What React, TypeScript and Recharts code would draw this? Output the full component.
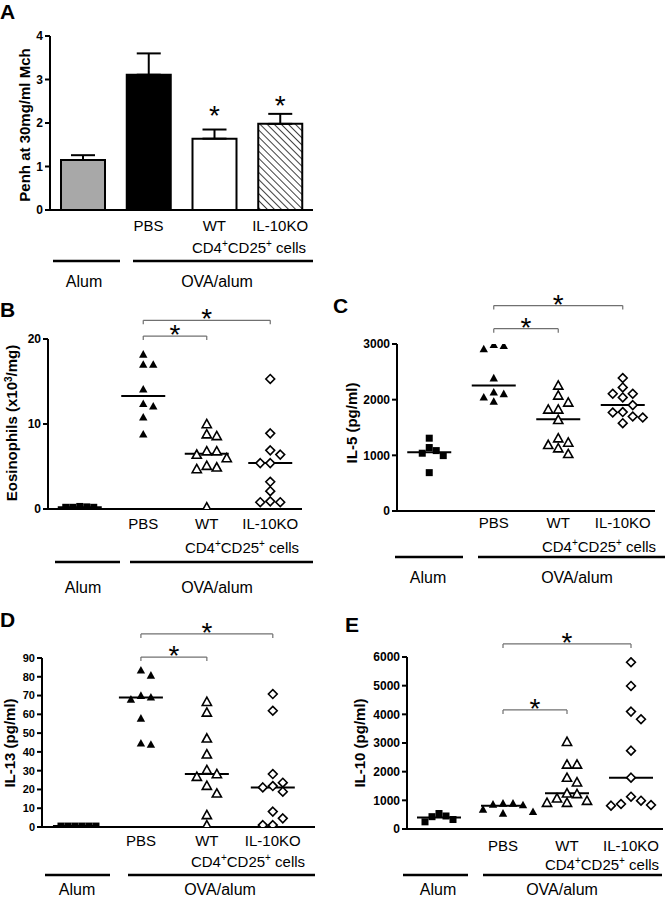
import React from 'react';
import {
  BarChart,
  Bar,
  Cell,
  ErrorBar,
  ScatterChart,
  Scatter,
  XAxis,
  YAxis,
  ReferenceLine,
  ReferenceDot,
} from 'recharts';

const FONT = '"Liberation Sans", Arial, Helvetica, sans-serif';

const groupNames = ['Alum', 'PBS', 'WT', 'IL-10KO'];

// A: Penh at 30 mg/ml Mch, mean + SEM
const penhMean = [1.15, 3.11, 1.64, 1.98];
const penhSem = [0.11, 0.49, 0.21, 0.23];
const penhStar = [null, null, 2.14, 2.37];

// B: eosinophils (x10^3/mg)
const eosAlum = [0.2, 0.3, 0.25, 0.2, 0.2];
const eosPbs = [18.2, 17.0, 17.0, 14.1, 12.4, 12.1, 10.8, 8.8];
const eosWt = [10.0, 8.8, 8.6, 6.8, 6.8, 6.4, 6.0, 5.1, 4.9, 4.7, 0.2];
const eosKo = [15.3, 8.9, 6.9, 6.4, 5.4, 5.4, 3.2, 2.1, 0.9, 0.8, 0.8];
const eosMedian = [0.2, 13.3, 6.5, 5.4];

// C: IL-5 (pg/ml)
const il5Alum = [1308, 1140, 1085, 1038, 995, 689];
const il5Pbs = [2988, 2970, 2910, 2388, 2136, 2106, 2046, 1968];
const il5Wt = [2256, 2076, 1950, 1824, 1824, 1638, 1308, 1230, 1188, 1128, 1026];
const il5Ko = [2389, 2220, 2106, 2106, 2040, 1902, 1777, 1770, 1698, 1680, 1578];
const il5Median = [1056, 2256, 1650, 1902];

// D: IL-13 (pg/ml)
const il13Alum = [0.5, 0.5, 0.5, 0.5, 0.5, 0.5];
const il13Pbs = [83.5, 80.8, 70.0, 69.1, 68.0, 57.9, 44.6, 44.0];
const il13Wt = [66.7, 61.0, 47.2, 38.7, 30.4, 28.2, 26.8, 22.0, 17.9, 6.4, 1.0];
const il13Ko = [70.8, 61.9, 28.2, 23.6, 21.8, 21.1, 18.8, 8.2, 4.6, 1.0, 1.0];
const il13Median = [0.5, 68.9, 28.2, 21.1];

// E: IL-10 (pg/ml)
const il10Alum = [540, 454, 430, 331, 250];
const il10Pbs = [897, 897, 862, 838, 687, 605, 547];
const il10Wt = [3043, 2251, 2251, 1792, 1629, 1245, 1222, 1070, 988, 919, 919];
const il10Ko = [5818, 4990, 4095, 3828, 2733, 1792, 1128, 988, 872, 838, 815];
const il10Median = [400, 815, 1245, 1792];

const AXW = 45;
const TOP = 60;

const penhData = groupNames.map((g, i) => ({
  group: g,
  mean: penhMean[i],
  err: [0, penhSem[i]],
}));
const barFills = ['#a8a8a8', '#000', '#fff', 'url(#penhHatch)'];

const panels = [
  {
    id: 'B',
    plot: { l: 48, t: 339, r: 302, b: 509 },
    yMax: 20,
    yTicks: [0, 10, 20],
    xMax: 4,
    tickMargin: 9,
    tickFont: 12,
    groups: [eosAlum, eosPbs, eosWt, eosKo],
    medians: eosMedian,
    brackets: [
      { to: 2, level: 20.35 },
      { to: 3, level: 22.2 },
    ],
  },
  {
    id: 'C',
    plot: { l: 397, t: 344, r: 655, b: 511 },
    yMax: 3000,
    yTicks: [0, 1000, 2000, 3000],
    xMax: 4,
    tickMargin: 6,
    tickFont: 12,
    groups: [il5Alum, il5Pbs, il5Wt, il5Ko],
    medians: il5Median,
    brackets: [
      { to: 2, level: 3276 },
      { to: 3, level: 3690 },
    ],
  },
  {
    id: 'D',
    plot: { l: 42, t: 658, r: 315, b: 827 },
    yMax: 90,
    yTicks: [0, 10, 20, 30, 40, 50, 60, 70, 80, 90],
    xMax: 4.14,
    tickMargin: 8,
    tickFont: 11,
    groups: [il13Alum, il13Pbs, il13Wt, il13Ko],
    medians: il13Median,
    brackets: [
      { to: 2, level: 90.5 },
      { to: 3, level: 102.8 },
    ],
  },
  {
    id: 'E',
    plot: { l: 407, t: 657, r: 663, b: 829 },
    yMax: 6000,
    yTicks: [0, 1000, 2000, 3000, 4000, 5000, 6000],
    xMax: 4,
    tickMargin: 11,
    tickFont: 12,
    groups: [il10Alum, il10Pbs, il10Wt, il10Ko],
    medians: il10Median,
    brackets: [
      { to: 2, level: 4153 },
      { to: 3, level: 6456 },
    ],
  },
];

// spread tied values sideways the way GraphPad column scatter does
function jitter(values: number[], center: number, pxY: number, slot: number) {
  const order = values.map((_, i) => i).sort((a, b) => values[b] - values[a]);
  const placed: { v: number; s: number }[] = [];
  return order.map((i) => {
    const v = values[i];
    const busy = placed.filter((p) => Math.abs(p.v - v) * pxY < 9).map((p) => p.s);
    const s = [0, 1, -1, 2, -2, 3, -3, 4, -4].find((c) => !busy.includes(c)) ?? 0;
    placed.push({ v, s });
    return { x: center + s * slot, y: v };
  });
}

const tri = (x: number, y: number, r: number) =>
  `M${x},${y - r}L${x + r},${y + r * 0.8}L${x - r},${y + r * 0.8}Z`;
const dia = (x: number, y: number, r: number) =>
  `M${x},${y - r}L${x + r},${y}L${x},${y + r}L${x - r},${y}Z`;

const markers = [
  (p: any) => <rect x={p.cx - 3.5} y={p.cy - 3.5} width={7} height={7} fill="#000" />,
  (p: any) => <path d={tri(p.cx, p.cy, 4.2)} fill="#000" />,
  (p: any) => <path d={tri(p.cx, p.cy, 4.6)} fill="#fff" stroke="#000" strokeWidth={1.6} />,
  (p: any) => <path d={dia(p.cx, p.cy, 4.4)} fill="#fff" stroke="#000" strokeWidth={1.6} />,
];

const star = (p: any) => (
  <text x={p.cx} y={p.cy + 8} textAnchor="middle" fontSize={28} fill="#000">
    *
  </text>
);

const axisLine = { stroke: '#000', strokeWidth: 2 };

function PanelA() {
  const plot = { l: 50, t: 36, r: 313, b: 210 };
  return (
    <div style={{ position: 'absolute', left: plot.l - AXW, top: plot.t - TOP }}>
      <BarChart
        width={plot.r - plot.l + AXW + 8}
        height={plot.b - plot.t + TOP + 30}
        data={penhData}
        margin={{ top: TOP, right: 8, bottom: 0, left: 0 }}
      >
        <defs>
          <pattern id="penhHatch" width="5" height="5" patternUnits="userSpaceOnUse" patternTransform="rotate(-45)">
            <rect width="5" height="5" fill="#fff" />
            <line x1="0" y1="0" x2="0" y2="5" stroke="#000" strokeWidth="1.5" />
          </pattern>
        </defs>
        <XAxis
          dataKey="group"
          tickFormatter={(v) => (v === 'Alum' ? '' : v)}
          tickLine={false}
          tickSize={0}
          tickMargin={10}
          height={30}
          interval={0}
          axisLine={axisLine}
          tick={{ fill: '#000', fontSize: 15 }}
        />
        <YAxis
          domain={[0, 4]}
          ticks={[0, 1, 2, 3, 4]}
          width={AXW}
          tickSize={5}
          tickMargin={2}
          interval={0}
          allowDataOverflow
          axisLine={axisLine}
          tickLine={axisLine}
          tick={{ fill: '#000', fontSize: 12, fontWeight: 700 }}
        />
        <Bar dataKey="mean" barSize={44} stroke="#000" strokeWidth={2} isAnimationActive={false}>
          {penhData.map((d, i) => (
            <Cell key={d.group} fill={barFills[i]} />
          ))}
          <ErrorBar dataKey="err" width={12} stroke="#000" strokeWidth={2} direction="y" />
        </Bar>
        {penhStar.map((s, i) =>
          s == null ? null : (
            <ReferenceDot key={i} x={groupNames[i]} y={s} r={0} ifOverflow="visible" shape={star} />
          )
        )}
      </BarChart>
    </div>
  );
}

function DotPanel({ cfg }: { cfg: (typeof panels)[number] }) {
  const { plot, yMax, xMax } = cfg;
  const pw = plot.r - plot.l;
  const ph = plot.b - plot.t;
  const pxX = pw / xMax;
  const pxY = ph / yMax;
  const series = cfg.groups.map((vals, gi) => jitter(vals, gi + 0.5, pxY, (gi === 0 ? 7 : 10) / pxX));
  const half = 22 / pxX;
  const drop = 4 / pxY;
  const bStroke = { stroke: '#707070', strokeWidth: 1.2, ifOverflow: 'visible' as const };

  return (
    <div style={{ position: 'absolute', left: plot.l - AXW, top: plot.t - TOP }}>
      <ScatterChart
        width={pw + AXW + 8}
        height={ph + TOP + 30}
        margin={{ top: TOP, right: 8, bottom: 0, left: 0 }}
      >
        <XAxis
          type="number"
          dataKey="x"
          domain={[0, xMax]}
          ticks={[1.5, 2.5, 3.5]}
          tickFormatter={(v) => groupNames[Math.floor(v)]}
          tickLine={false}
          tickSize={0}
          tickMargin={cfg.tickMargin}
          height={30}
          interval={0}
          allowDataOverflow
          axisLine={axisLine}
          tick={{ fill: '#000', fontSize: 15 }}
        />
        <YAxis
          type="number"
          dataKey="y"
          domain={[0, yMax]}
          ticks={cfg.yTicks}
          width={AXW}
          tickSize={5}
          tickMargin={2}
          interval={0}
          allowDataOverflow
          axisLine={axisLine}
          tickLine={axisLine}
          tick={{ fill: '#000', fontSize: cfg.tickFont, fontWeight: 700 }}
        />
        {series.map((pts, gi) => (
          <Scatter key={gi} data={pts} shape={markers[gi]} isAnimationActive={false} />
        ))}
        {cfg.medians.map((m, gi) => (
          <ReferenceLine
            key={'m' + gi}
            segment={[
              { x: gi + 0.5 - half, y: m },
              { x: gi + 0.5 + half, y: m },
            ]}
            stroke="#000"
            strokeWidth={2}
            ifOverflow="visible"
          />
        ))}
        {cfg.brackets.map((b, k) => {
          const x1 = 1.5;
          const x2 = b.to + 0.5;
          return [
            <ReferenceLine key={'h' + k} segment={[{ x: x1, y: b.level }, { x: x2, y: b.level }]} {...bStroke} />,
            <ReferenceLine key={'l' + k} segment={[{ x: x1, y: b.level }, { x: x1, y: b.level - drop }]} {...bStroke} />,
            <ReferenceLine key={'r' + k} segment={[{ x: x2, y: b.level }, { x: x2, y: b.level - drop }]} {...bStroke} />,
            <ReferenceDot key={'s' + k} x={(x1 + x2) / 2} y={b.level} r={0} ifOverflow="visible" shape={star} />,
          ];
        })}
      </ScatterChart>
    </div>
  );
}

function CellsLabel({ x, y }: { x: number; y: number }) {
  return (
    <text x={x} y={y} textAnchor="middle" fontSize={15} fill="#000">
      CD4
      <tspan dy={-6} fontSize={10}>+</tspan>
      <tspan dy={6}>CD25</tspan>
      <tspan dy={-6} fontSize={10}>+</tspan>
      <tspan dy={6}>{'\u00a0cells'}</tspan>
    </text>
  );
}

function YLabel({ x, y, children }: { x: number; y: number; children: React.ReactNode }) {
  return (
    <text
      transform={`translate(${x + 5},${y}) rotate(-90)`}
      textAnchor="middle"
      fontSize={15}
      fontWeight="bold"
      fill="#000"
    >
      {children}
    </text>
  );
}

const groupRows = [
  { cells: [249, 253], line: 261, alum: [53, 120], ova: [133, 313], text: 287, alumX: 84, ovaX: 217 },
  { cells: [242, 553], line: 562, alum: [55, 120], ova: [130, 313], text: 593, alumX: 83, ovaX: 217 },
  { cells: [599, 552], line: 557, alum: [395, 463], ova: [478, 665], text: 583, alumX: 428, ovaX: 577 },
  { cells: [248, 867], line: 875, alum: [45, 110], ova: [128, 315], text: 895, alumX: 77, ovaX: 220 },
  { cells: [602, 870], line: 875, alum: [403, 468], ova: [483, 662], text: 895, alumX: 438, ovaX: 562 },
];

const letters = [
  { t: 'A', x: 0, y: 19 },
  { t: 'B', x: 0, y: 317 },
  { t: 'C', x: 333, y: 313 },
  { t: 'D', x: 0, y: 627 },
  { t: 'E', x: 345, y: 632 },
];

function Annotations() {
  return (
    <svg
      width={667}
      height={900}
      style={{ position: 'absolute', left: 0, top: 0, pointerEvents: 'none' }}
      fontFamily={FONT}
    >
      {letters.map((l) => (
        <text key={l.t} x={l.x} y={l.y} fontSize={21} fontWeight="bold" fill="#000">
          {l.t}
        </text>
      ))}
      <YLabel x={25} y={125}>Penh at 30mg/ml Mch</YLabel>
      <YLabel x={12} y={423}>
        Eosinophils (x10
        <tspan dy={-5} fontSize={10}>3</tspan>
        <tspan dy={5}>/mg)</tspan>
      </YLabel>
      <YLabel x={352} y={423}>IL-5 (pg/ml)</YLabel>
      <YLabel x={10} y={743}>IL-13 (pg/ml)</YLabel>
      <YLabel x={360} y={743}>IL-10 (pg/ml)</YLabel>
      {groupRows.map((g, i) => (
        <g key={i}>
          <CellsLabel x={g.cells[0]} y={g.cells[1]} />
          <line x1={g.alum[0]} x2={g.alum[1]} y1={g.line} y2={g.line} stroke="#000" strokeWidth={2.5} />
          <line x1={g.ova[0]} x2={g.ova[1]} y1={g.line} y2={g.line} stroke="#000" strokeWidth={2.5} />
          <text x={g.alumX} y={g.text} textAnchor="middle" fontSize={16} fill="#000">
            Alum
          </text>
          <text x={g.ovaX} y={g.text} textAnchor="middle" fontSize={16} fill="#000">
            OVA/alum
          </text>
        </g>
      ))}
    </svg>
  );
}

export default function App() {
  return (
    <div
      style={{
        position: 'relative',
        width: 667,
        height: 900,
        background: '#fff',
        fontFamily: FONT,
        overflow: 'hidden',
      }}
    >
      <style>{'body{margin:0}'}</style>
      <PanelA />
      {panels.map((p) => (
        <DotPanel key={p.id} cfg={p} />
      ))}
      <Annotations />
    </div>
  );
}
